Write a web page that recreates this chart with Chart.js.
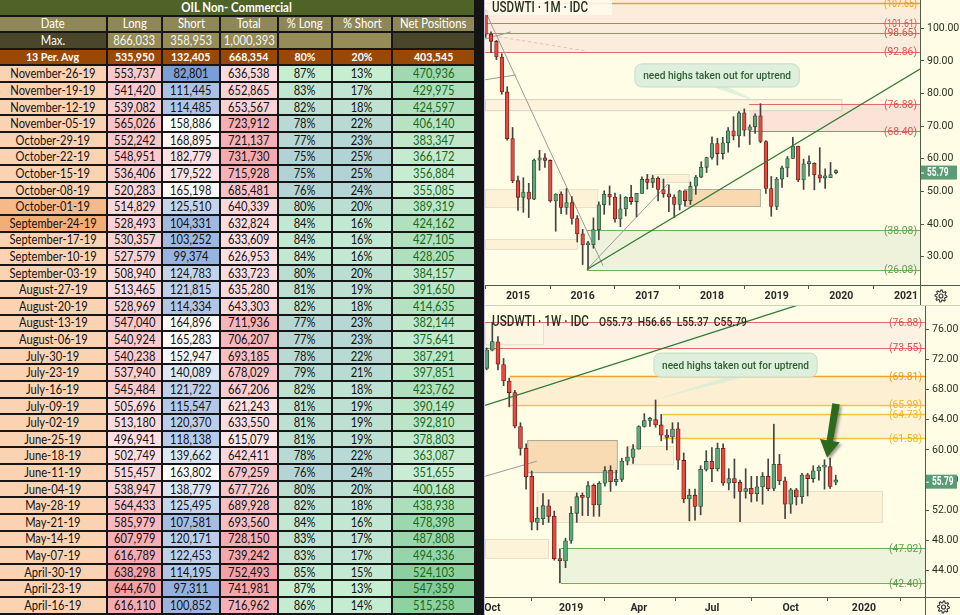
<!DOCTYPE html>
<html><head><meta charset="utf-8">
<script src="https://cdn.jsdelivr.net/npm/chart.js@4.4.1/dist/chart.umd.min.js"></script>
<style>
html,body{margin:0;padding:0;width:960px;height:615px;overflow:hidden;background:#141414;font-family:Lato,"Open Sans",sans-serif;}
#tbl{position:absolute;left:0;top:0;width:474px;display:grid;grid-template-columns:106px 53px 56px 56px 52px 58px 81px;grid-auto-rows:14.62px;gap:2px;background:#161616;}
.c{display:flex;align-items:center;justify-content:center;font-size:12.8px;color:#111;white-space:nowrap;overflow:visible;line-height:1;}
.c span{display:inline-block;transform:scaleX(0.87);transform-origin:center;}
.title{grid-column:1 / span 7;background:#4f6228;color:#fff;font-weight:bold;font-size:13.2px;}
.hdr{background:#8e8757;color:#fff;font-size:13px;}
.mxd{background:#4a4629;color:#fff;font-size:13px;}
.mxc{background:#958c56;color:#f4f4f4;font-size:13px;}
.avg{background:#984807;color:#fff;font-weight:bold;font-size:12.2px;}
.net{color:#16691a;}
.cw{position:absolute;left:485px;width:475px;background:#fffde6;}
#w1{top:0;height:305px;}
#w2{top:306px;height:309px;}
#sep{position:absolute;left:485px;top:305px;width:475px;height:1px;background:#c9ced8;}
#lb{position:absolute;left:484px;top:0;width:1px;height:615px;background:#c3c8dc;}
</style></head>
<body>
<div id="tbl"></div>
<div id="w1" class="cw"><canvas id="c1" width="475" height="305"></canvas></div>
<div id="sep"></div>
<div id="w2" class="cw"><canvas id="c2" width="475" height="309"></canvas></div>
<div id="lb"></div>
<script>
// ---------------- TABLE DATA ----------------
const tableTitle = 'OIL Non- Commercial';
const headers = ['Date','Long','Short','Total','% Long','% Short','Net Positions'];
const maxRow = ['Max.', 866033, 358953, 1000393];
const avgRow = ['13 Per. Avg', 535950, 132405, 668354, 80, 20, 403545];
const dates = ['November-26-19','November-19-19','November-12-19','November-05-19','October-29-19','October-22-19','October-15-19','October-08-19','October-01-19','September-24-19','September-17-19','September-10-19','September-03-19','August-27-19','August-20-19','August-13-19','August-06-19','July-30-19','July-23-19','July-16-19','July-09-19','July-02-19','June-25-19','June-18-19','June-11-19','June-04-19','May-28-19','May-21-19','May-14-19','May-07-19','April-30-19','April-23-19','April-16-19'];
const longs = [553737,541420,539082,565026,552242,548951,536406,520283,514829,528493,530357,527579,508940,513465,528969,547040,540924,540238,537940,545484,505696,513180,496941,502749,515457,538947,564433,585979,607979,616789,638298,644670,616110];
const shorts = [82801,111445,114485,158886,168895,182779,179522,165198,125510,104331,103252,99374,124783,121815,114334,164896,165283,152947,140089,121722,115547,120370,118138,139662,163802,138779,125495,107581,120171,122453,114195,97311,100852];
const totals = [636538,652865,653567,723912,721137,731730,715928,685481,640339,632824,633609,626953,633723,635280,643303,711936,706207,693185,678029,667206,621243,633550,615079,642411,679259,677726,689928,693560,728150,739242,752493,741981,716962];
const pctLong = [87,83,82,78,77,75,75,76,80,84,84,84,80,81,82,77,77,78,79,82,81,81,81,78,76,80,82,84,83,83,85,87,86];
const pctShort = [13,17,18,22,23,25,25,24,20,16,16,16,20,19,18,23,23,22,21,18,19,19,19,22,24,20,18,16,17,17,15,13,14];
const netPos = [470936,429975,424597,406140,383347,366172,356884,355085,389319,424162,427105,428205,384157,391650,414635,382144,375641,387291,397851,423762,390149,392810,378803,363087,351655,400168,438938,478398,487808,494336,524103,547359,515258];
const dateHighlight = {'October-01-19':'#f6b98a','September-24-19':'#f4ad77'};

// ---------------- MONTHLY CANDLES (Jul 2014 .. Dec 2019) ----------------
const mFirstIndex = -6; // Jul 2014 relative to Jan 2015
const mOpen  = [105.4,98.2,96.0,91.2,80.5,66.2, 53.3,48.2,49.8,47.6,59.6,60.3,59.5,47.1,49.2,45.1,46.6,41.7, 37.0,33.6,33.7,38.3,45.9,49.1,48.3,41.6,44.7,48.2,46.9,49.4, 53.7,52.8,54.0,50.6,49.3,48.3,46.0,50.2,47.2,51.6,54.4,57.4, 60.4,64.7,61.6,64.9,68.6,67.0,74.1,68.8,69.8,73.2,65.3,50.9, 45.4,53.8,57.2,60.1,63.9,53.5,58.5,58.6,55.1,54.1,54.2,55.73];
const mHigh  = [105.8,98.9,96.3,92.2,82.1,69.6, 54.7,54.2,52.5,59.9,62.6,61.6,59.7,49.3,49.9,50.9,48.4,42.6, 38.4,34.7,41.9,46.8,50.2,51.7,49.5,49.0,48.4,51.9,49.2,54.5, 55.2,54.9,54.5,53.8,52.0,49.0,50.4,50.2,52.9,54.9,59.1,60.5, 66.7,66.3,66.6,69.6,72.9,74.5,75.3,70.4,73.8,76.9,65.6,54.6, 54.3,57.8,60.7,66.6,63.9,59.9,60.9,58.8,63.4,56.9,58.9,56.65];
const mLow   = [97.2,92.5,90.4,79.8,65.7,52.7, 44.2,43.6,42.0,47.5,56.5,57.4,46.7,37.8,43.2,43.0,40.0,34.5, 27.6,26.1,32.6,35.2,43.0,45.8,40.6,39.2,42.5,46.0,42.2,49.4, 50.7,51.2,47.1,48.2,43.8,42.0,44.3,45.6,46.0,49.1,54.2,55.8, 59.9,58.1,59.9,62.0,65.8,63.6,67.0,64.4,67.8,64.9,49.4,42.4, 44.4,51.2,54.5,60.1,53.0,50.6,54.7,50.5,52.8,50.9,54.9,55.37];
const mClose = [98.2,96.0,91.2,80.5,66.2,53.3, 48.2,49.8,47.6,59.6,60.3,59.5,47.1,49.2,45.1,46.6,41.7,37.0, 33.6,33.7,38.3,45.9,49.1,48.3,41.6,44.7,48.2,46.9,49.4,53.7, 52.8,54.0,50.6,49.3,48.3,46.0,50.2,47.2,51.6,54.4,57.4,60.4, 64.7,61.6,64.9,68.6,67.0,74.1,68.8,69.8,73.2,65.3,50.9,45.4, 53.8,57.2,60.1,63.9,53.5,58.5,58.6,55.1,54.1,54.2,55.2,55.79];
const mTickPos = [0,12,24,36,48,60,72];
const mTickLabels = ['2015','2016','2017','2018','2019','2020','2021'];

// ---------------- WEEKLY CANDLES (week of Sep 24 2018 .. Dec 2 2019) ----------------
const wOpen  = [70.8,73.2,74.3,71.3,69.1,67.6,63.1,60.2,56.5,50.4,50.9,52.6,51.2,45.6,45.3,48.0,51.6,53.8,53.7,55.3,52.7,55.6,57.3,55.8,56.1,58.5,59.0,60.1,63.1,63.9,64.0,63.3,61.9,61.7,62.8,58.6,53.5,54.0,52.5,57.4,58.5,57.5,60.2,55.6,56.2,55.7,54.5,54.9,54.2,55.1,56.5,54.9,58.1,55.9,52.8,54.7,53.8,56.7,56.2,57.2,57.7,57.8,55.73];
const wHigh  = [73.5,76.9,75.0,72.1,69.5,67.9,63.6,60.8,57.2,52.4,54.2,53.4,51.9,46.9,48.3,52.5,54.3,54.3,55.8,55.5,55.8,57.8,57.9,57.3,58.9,60.4,60.7,63.2,64.8,64.3,66.6,64.7,62.7,63.6,63.6,59.6,54.8,54.8,57.9,59.9,60.3,60.9,60.8,57.5,58.8,56.0,57.5,56.5,56.5,57.0,58.8,63.4,59.4,56.4,54.9,54.9,56.9,56.9,57.9,57.9,58.7,58.9,56.65];
const wLow   = [70.6,73.1,70.6,68.5,65.7,62.9,59.3,54.8,49.4,49.4,50.1,50.4,45.4,42.4,44.4,47.6,50.4,51.3,51.3,51.2,51.2,55.2,54.5,55.3,55.8,58.0,58.2,60.1,63.0,63.1,63.0,61.2,60.0,60.9,57.4,53.0,50.6,50.7,51.4,57.2,55.8,57.2,55.3,54.7,53.6,50.5,53.6,53.1,53.2,52.8,54.6,54.6,55.4,50.9,51.6,52.7,52.9,53.9,55.7,56.0,54.8,54.9,55.37];
const wClose = [73.25,74.34,71.34,69.12,67.59,63.14,60.19,56.46,50.42,50.93,52.61,51.20,45.59,45.33,47.96,51.59,53.80,53.69,55.26,52.72,55.59,57.26,55.80,56.07,58.52,59.04,60.14,63.08,63.89,64.00,63.30,61.94,61.66,62.76,58.63,53.50,54.00,52.51,57.43,58.47,57.51,60.21,55.63,56.20,55.66,54.50,54.87,54.17,55.10,56.52,54.85,58.09,55.91,52.81,54.70,53.78,56.66,56.20,57.24,57.72,57.77,55.17,55.79];
const wTickPos = [1,15,27,40,54,67];
const wTickLabels = ['Oct','2019','Apr','Jul','Oct','2020'];

const lastPrice = 55.79;
const calloutText = 'need highs taken out for uptrend';

// levels (price, colour kind, start x in chart units or null)
const mLevels = [[107.65,'o',null],[101.61,'r',null],[98.65,'r',null],[92.86,'r',null],[76.88,'r',42.9],[68.40,'r',42.9],[38.08,'g',12.8],[26.08,'g',12.8]];
const wLevels = [[76.88,'r',null],[73.55,'r',null],[69.81,'o',4.1],[65.99,'y',4.1],[64.73,'y',31.3],[61.58,'y',31.3],[47.02,'g',13.2],[42.40,'g',13.2]];

// ---------------- TABLE BUILD ----------------
function hex(c){return [parseInt(c.slice(1,3),16),parseInt(c.slice(3,5),16),parseInt(c.slice(5,7),16)];}
function mix(a,b,t){t=Math.max(0,Math.min(1,t));const A=hex(a),B=hex(b);return 'rgb('+A.map((v,i)=>Math.round(v+(B[i]-v)*t)).join(',')+')';}
function scaleCol(v,arr,lo,hi){const mn=Math.min(...arr),mx=Math.max(...arr);return mix(lo,hi,(v-mn)/(mx-mn));}
const fmt=n=>n.toLocaleString('en-US');
let h='';
const cell=(t,cls,bg)=>`<div class="c ${cls||''}"${bg?` style="background:${bg}"`:''}><span>${t}</span></div>`;
h+=cell(tableTitle,'title');
headers.forEach(x=>h+=cell(x,'hdr'));
h+=cell(maxRow[0],'mxd')+cell(fmt(maxRow[1]),'mxc')+cell(fmt(maxRow[2]),'mxc')+cell(fmt(maxRow[3]),'mxc')+cell('','mxc')+cell('','mxc')+cell('','mxd');
h+=cell(avgRow[0],'avg')+cell(fmt(avgRow[1]),'avg')+cell(fmt(avgRow[2]),'avg')+cell(fmt(avgRow[3]),'avg')+cell(avgRow[4]+'%','avg')+cell(avgRow[5]+'%','avg')+cell(fmt(avgRow[6]),'avg');
dates.forEach((d,i)=>{
  const sh=shorts[i];
  const shBg = sh<160000 ? mix('#7b9ed6','#ffffff',(sh-82801)/(160000-82801)) : mix('#ffffff','#fbe1e4',(sh-160000)/(182779-160000));
  h+=cell(d,'',dateHighlight[d]||'#fbd3b2');
  h+=cell(fmt(longs[i]),'',scaleCol(longs[i],longs,'#fde0e3','#f49ea5'));
  h+=cell(fmt(sh),'',shBg);
  h+=cell(fmt(totals[i]),'',scaleCol(totals[i],totals,'#fde5e8','#f5a0a6'));
  h+=cell(pctLong[i]+'%','',scaleCol(pctLong[i],pctLong,'#b3d2d5','#c7eed1'));
  h+=cell(pctShort[i]+'%','',scaleCol(pctShort[i],pctShort,'#c7eed1','#b3d2d5'));
  h+=cell(fmt(netPos[i]),'net',scaleCol(netPos[i],netPos,'#cbecd4','#84cc98'));
});
document.getElementById('tbl').innerHTML=h;

// ---------------- CHARTS ----------------
Chart.defaults.font.family='Roboto';
const AX='#4f5c46', TXT='#26301f';
const COL={r:'#e36a6a',o:'#f0a22e',y:'#f2c443',g:'#6fae5c'};
const LBL={r:'#e0504f',o:'#ee9a1c',y:'#efb52c',g:'#5e9e4c'};
const UPF='#5da77b', UPB='#2f4d39', DNF='#e9483d', DNB='#5e1d17';

function candles(xs,o,hh,l,c,bw){
  const up=c.map((v,i)=>v>=o[i]);
  return [
    {data:xs.map((x,i)=>({x,y:[l[i],hh[i]]})),backgroundColor:'#444',barThickness:1,grouped:false,order:2},
    {data:xs.map((x,i)=>({x,y:[o[i],c[i]]})),backgroundColor:up.map(u=>u?UPF:DNF),borderColor:up.map(u=>u?UPB:DNB),
     borderWidth:0.8,borderSkipped:false,barThickness:bw,minBarLength:2.2,grouped:false,order:1}
  ];
}
function fitText(ctx,t,x,y,size,w,color,weight,align){
  ctx.save();ctx.font=(weight||'normal')+' '+size+'px Roboto';
  const m=ctx.measureText(t).width;const s=w?w/m:1;
  ctx.translate(x,y);ctx.scale(s,1);ctx.fillStyle=color;ctx.textAlign=align||'left';ctx.textBaseline='alphabetic';
  ctx.fillText(t,0,0);ctx.restore();
}
function gear(ctx,cx,cy){
  ctx.save();ctx.strokeStyle='#333';ctx.lineWidth=1.1;ctx.beginPath();
  for(let k=0;k<=32;k++){const a=k*Math.PI/16;const r=(Math.floor(k/2)%2)?4.3:6;const px=cx+r*Math.cos(a),py=cy+r*Math.sin(a);k?ctx.lineTo(px,py):ctx.moveTo(px,py);}
  ctx.stroke();ctx.beginPath();ctx.arc(cx,cy,2,0,Math.PI*2);ctx.stroke();ctx.restore();
}

function annoPlugin(A){
  return {id:'anno',
  beforeDatasetsDraw(ch){
    const {ctx,chartArea:a,scales:{x,y}}=ch;
    const X=v=>v==null?a.left:x.getPixelForValue(v), X2=v=>v==null?a.right:x.getPixelForValue(v);
    ctx.save();ctx.beginPath();ctx.rect(a.left,a.top,a.width,a.height);ctx.clip();
    A.bands.forEach(b=>{ctx.fillStyle=b[4];const y1=y.getPixelForValue(b[3]),y2=y.getPixelForValue(b[2]);ctx.fillRect(X(b[0]),y1,X2(b[1])-X(b[0]),y2-y1);});
    A.boxes.forEach(b=>{const x1=X(b[0]),x2=X2(b[1]),y1=y.getPixelForValue(b[3]),y2=y.getPixelForValue(b[2]);
      ctx.fillStyle=b[4];ctx.fillRect(x1,y1,x2-x1,y2-y1);ctx.strokeStyle=b[5];ctx.lineWidth=1;ctx.strokeRect(x1+0.5,y1+0.5,x2-x1,y2-y1);});
    A.levels.forEach(l=>{const yy=Math.round(y.getPixelForValue(l[0]))+0.5;ctx.strokeStyle=COL[l[1]];ctx.lineWidth=(l[1]==='y'||l[1]==='o')?1.6:1.2;
      ctx.beginPath();ctx.moveTo(X(l[2]),yy);ctx.lineTo(a.right,yy);ctx.stroke();});
    A.segs.forEach(s=>{ctx.strokeStyle=s[4];ctx.lineWidth=s[5]||1;ctx.setLineDash(s[6]||[]);ctx.beginPath();
      ctx.moveTo(x.getPixelForValue(s[0]),y.getPixelForValue(s[1]));ctx.lineTo(x.getPixelForValue(s[2]),y.getPixelForValue(s[3]));ctx.stroke();});
    ctx.setLineDash([]);ctx.restore();
  },
  afterDatasetsDraw(ch){
    const {ctx,chartArea:a,scales:{x,y}}=ch;
    ctx.save();ctx.beginPath();ctx.rect(a.left,a.top,a.width,a.height);ctx.clip();
    const t=A.trend;ctx.strokeStyle='#2f7a33';ctx.lineWidth=1.3;ctx.beginPath();
    ctx.moveTo(x.getPixelForValue(t[0]),y.getPixelForValue(t[1]));ctx.lineTo(x.getPixelForValue(t[2]),y.getPixelForValue(t[3]));ctx.stroke();
    A.levels.forEach(l=>{const yy=y.getPixelForValue(l[0]);fitText(ctx,'('+l[0].toFixed(2)+')',a.right-3,yy+3.8,11,33,LBL[l[1]],'normal','right');});
    const c=A.callout;const bx1=x.getPixelForValue(c.x1),bx2=x.getPixelForValue(c.x2),by1=y.getPixelForValue(c.hi),by2=y.getPixelForValue(c.lo);
    ctx.fillStyle='rgba(214,236,214,0.75)';ctx.beginPath();
    ctx.moveTo(x.getPixelForValue(c.b1),by2);ctx.lineTo(x.getPixelForValue(c.tx),y.getPixelForValue(c.ty));ctx.lineTo(x.getPixelForValue(c.b2),by2);ctx.closePath();ctx.fill();
    ctx.fillStyle='rgba(220,239,220,0.95)';ctx.strokeStyle='#c4dcc4';ctx.lineWidth=1;
    ctx.beginPath();ctx.roundRect(bx1,by1,bx2-bx1,by2-by1,7);ctx.fill();ctx.stroke();
    fitText(ctx,calloutText,(bx1+bx2)/2,(by1+by2)/2+3.8,11.5,(bx2-bx1)*0.9,'#2f5e30','500','center');
    if(A.arrow){const r=A.arrow;const x1=x.getPixelForValue(r[0]),y1=y.getPixelForValue(r[1]),x2=x.getPixelForValue(r[2]),y2=y.getPixelForValue(r[3]);
      const ang=Math.atan2(y2-y1,x2-x1),len=Math.hypot(x2-x1,y2-y1);
      ctx.save();ctx.translate(x1,y1);ctx.rotate(ang);ctx.shadowColor='rgba(0,0,0,0.4)';ctx.shadowBlur=3;ctx.shadowOffsetX=2;ctx.shadowOffsetY=2;
      ctx.fillStyle='#2d6a1d';ctx.beginPath();ctx.moveTo(0,-3.8);ctx.lineTo(len-17,-3.2);ctx.lineTo(len-17,-10);ctx.lineTo(len,0);ctx.lineTo(len-17,10);ctx.lineTo(len-17,3.2);ctx.lineTo(0,3.8);ctx.closePath();ctx.fill();ctx.restore();}
    ctx.restore();
    if(A.titleBg){ctx.fillStyle='rgba(255,251,238,0.85)';ctx.fillRect(a.left,0,A.titleBg,15);}
    A.title.forEach(tt=>fitText(ctx,tt[0],a.left+tt[1],tt[2],tt[3],tt[4],TXT,'500','left'));
  },
  afterDraw(ch){
    const {ctx,chartArea:a,scales:{y},width:W,height:H}=ch;
    ctx.save();ctx.strokeStyle=AX;ctx.lineWidth=1;
    ctx.beginPath();ctx.moveTo(a.right+0.5,a.bottom);ctx.lineTo(a.right+0.5,H);ctx.moveTo(a.right,a.bottom+0.5);ctx.lineTo(W,a.bottom+0.5);ctx.stroke();
    const py=y.getPixelForValue(lastPrice);
    ctx.fillStyle='#5b9b76';ctx.fillRect(a.right+1,py-7,W-a.right-4,14);
    ctx.strokeStyle='#fff';ctx.beginPath();ctx.moveTo(a.right+1,py+0.5);ctx.lineTo(a.right+4,py+0.5);ctx.stroke();
    fitText(ctx,lastPrice.toFixed(2),a.right+7,py+3.8,12,21.5,'#ffffff','bold','left');
    gear(ctx,(a.right+W)/2+1,a.bottom+(H-a.bottom)/2+1);
    ctx.restore();
  }};
}

function makeChart(id,xs,o,hh,l,c,cfg){
  new Chart(document.getElementById(id),{
    type:'bar',
    data:{datasets:candles(xs,o,hh,l,c,cfg.bw)},
    options:{responsive:false,animation:false,events:[],
      layout:{padding:0},
      plugins:{legend:{display:false},tooltip:{enabled:false}},
      scales:{
        x:{type:'linear',min:cfg.xmin,max:cfg.xmax,offset:false,
          grid:{display:true,drawOnChartArea:false,drawTicks:true,tickLength:4,color:AX},
          border:{display:true,color:AX},
          ticks:{autoSkip:false,maxRotation:0,padding:1,color:'#2a2a2a',font:{size:10.5,weight:'bold'},callback:(v,i)=>cfg.tickLabels[i]},
          afterBuildTicks:s=>{s.ticks=cfg.tickPos.map(v=>({value:v}));},
          afterFit:s=>{s.height=cfg.xh;s.paddingLeft=0;s.paddingRight=0;}},
        y:{position:'right',min:cfg.ymin,max:cfg.ymax,
          grid:{display:true,drawOnChartArea:false,tickLength:4,color:AX},
          border:{display:true,color:AX},
          ticks:{stepSize:cfg.step,includeBounds:false,padding:3,color:TXT,font:{size:10.5},callback:v=>v.toFixed(2)},
          afterFit:s=>{s.width=cfg.yw;s.paddingTop=0;s.paddingBottom=0;}}
      }},
    plugins:[annoPlugin(cfg.anno)]
  });
}

const mX=mOpen.map((_,i)=>i+mFirstIndex);
makeChart('c1',mX,mOpen,mHigh,mLow,mClose,{bw:3.6,xmin:-6.12,xmax:74.6,ymin:21.33,ymax:108.67,step:10,xh:20,yw:40,
  tickPos:mTickPos,tickLabels:mTickLabels,
  anno:{
    bands:[[null,null,92.86,112,'#fcecdc'],[42.9,null,68.40,76.88,'#fbe3d7'],[12.8,null,26.08,38.08,'#eef2da']],
    boxes:[[null,60,74.9,78.3,'#fdf2da','#d6d4cc'],[null,0.74,45.23,50.75,'#fdf1d6','#e8dfc6'],[7.6,14.7,45.23,50.75,'#fdf1d6','#e8dfc6'],
           [23.75,31.7,52.9,55.35,'#fdf1d6','#e8dfc6'],[null,10.95,32.4,35.43,'#fdf1d6','#e8dfc6'],[30.8,44.9,45.54,50.75,'#f8d9b0','#b3afa2']],
    levels:mLevels,
    segs:[[-5.75,104.1,15.8,27.2,'#9b9b9b',1],[12.8,26.1,27.8,52.3,'#9b9b9b',1],[-6.2,84.2,-0.4,85.7,'#9b9b9b',1],[-6.2,96.7,-1.3,98.9,'#9b9b9b',1],
          [-5.8,98.0,12.8,93.0,'#f0b9b4',1,[3,3]]],
    trend:[12.8,26.1,74.6,87.5],
    callout:{x1:21.7,x2:52.2,lo:82.0,hi:89.1,b1:36.2,b2:39.0,tx:44.9,ty:77.1},
    title:[['USDWTI · 1M · IDC',7,12,15,96]],titleBg:127
  }});

const wX=wOpen.map((_,i)=>i);
makeChart('c2',wX,wOpen,wHigh,wLow,wClose,{bw:4,xmin:-0.3,xmax:77.85,ymin:40.52,ymax:79.05,step:4,xh:18,yw:35,
  tickPos:wTickPos,tickLabels:wTickLabels,
  anno:{
    bands:[[null,null,73.55,76.88,'#fcf1e3'],[4.1,null,65.99,69.81,'#fcefd2'],[31.3,null,61.58,64.73,'#fdf3d9'],[13.2,null,42.40,47.02,'#eef3db']],
    boxes:[[null,10,74.0,76.93,'#fdf6e2','#e8dfc8'],[7.2,23.1,57.05,61.3,'#f8dab3','#a9a598'],[8.9,70.2,50.45,54.55,'#fdf3d8','#e8dec4'],
           [null,10.9,45.7,48.2,'#fdf3d8','#e8dec4'],[24.9,33.1,58.1,60.5,'#fdf3d8','#e8dec4']],
    levels:wLevels,
    segs:[[-0.3,56.5,8.9,58.5,'#9b9b9b',1]],
    trend:[-0.3,65.9,60,80.3],
    callout:{x1:29.7,x2:58.7,lo:69.64,hi:72.82,b1:42.7,b2:45.9,tx:30.1,ty:66.7},
    arrow:[62.05,66.1,60.45,59.0],
    title:[['USDWTI · 1W · IDC',7,19.5,15,97],['O55.73  H56.65  L55.37  C55.79',114,19.5,13,148]]
  }});
</script>
</body></html>
